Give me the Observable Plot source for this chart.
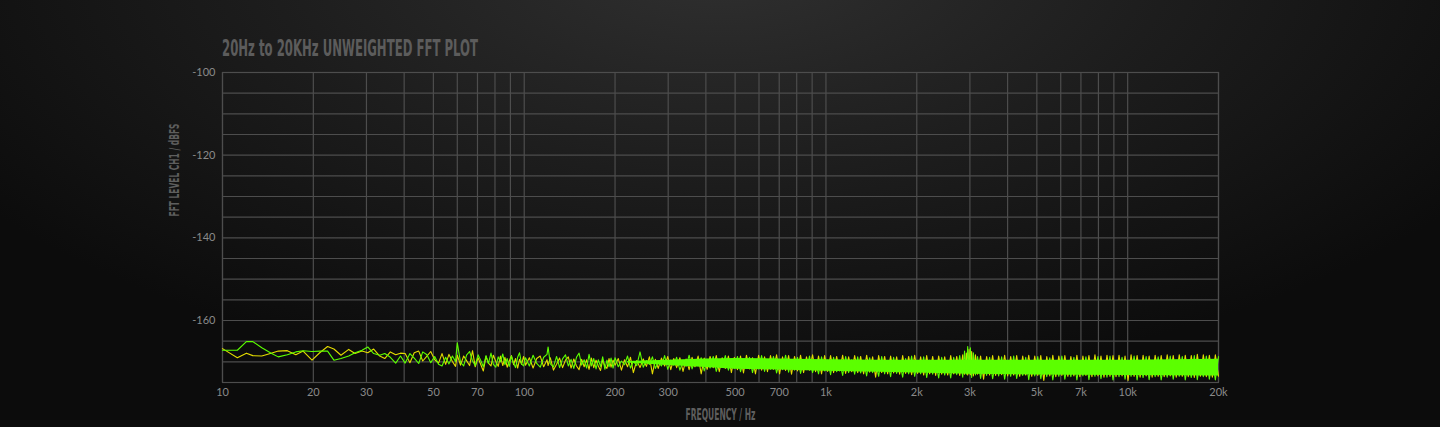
<!DOCTYPE html>
<html>
<head>
<meta charset="utf-8">
<script src="https://cdn.jsdelivr.net/npm/d3@7"></script>
<script src="https://cdn.jsdelivr.net/npm/@observablehq/plot@0.6"></script>
<style>
  html, body { margin: 0; padding: 0; }
  body {
    width: 1440px; height: 427px; overflow: hidden; position: relative;
    background-color: #0b0b0b;
    background-image: radial-gradient(ellipse 900px 430px at 720px -40px, #303030 0%, #1d1d1d 50%, #0c0c0c 100%);
  }
  #title { position: absolute; left: 0; top: 0; pointer-events: none; }
  #chart { position: absolute; left: 0; top: 0; }
  #chart svg { background: transparent; }
</style>
</head>
<body>
<svg id="title" width="1440" height="70">
  <text x="222" y="56" font-family="'Liberation Sans Narrow','DejaVu Sans Condensed','Roboto Condensed',sans-serif"
        font-weight="bold" font-size="23" fill="#5c5c5c" textLength="256" lengthAdjust="spacingAndGlyphs">20Hz to 20KHz UNWEIGHTED FFT PLOT</text>
</svg>
<div id="chart"></div>
<script>
// ---- tick / grid values ----
const xTickLabels = [10, 20, 30, 50, 70, 100, 200, 300, 500, 700, 1000, 2000, 3000, 5000, 7000, 10000, 20000];
const xGridLines = [10, 20, 30, 40, 50, 60, 70, 80, 90, 100, 200, 300, 400, 500, 600, 700, 800, 900,
  1000, 2000, 3000, 4000, 5000, 6000, 7000, 8000, 9000, 10000, 20000];
const yTickLabels = [-100, -120, -140, -160];
const yGridLines = [-100, -105, -110, -115, -120, -125, -130, -135, -140, -145, -150, -155, -160, -165, -170, -175];

// ---- frequencies (Hz) ----
const freqA = [10, 11.2, 12.0, 12.6, 13.5, 14.5, 15.3, 16.4, 17.5, 18.5, 19.8, 21.0, 22.3, 23.4, 24.7, 26.2, 27.5, 29.0, 30.3, 31.7,
  33.2, 34.5, 36.0, 37.5, 38.9];
const freqB = [40.3, 41.8, 43.2, 44.7, 46.1, 47.6, 49.0, 50.5, 52.0, 53.4, 54.9, 56.3, 57.8, 59.2, 60.0, 61.5, 63.0, 64.4, 65.9, 67.4,
  68.8, 70.3, 71.7, 73.2, 74.7, 76.1, 77.6, 79.0, 80.5, 82.0, 83.4, 84.9, 86.3, 87.8, 89.2, 90.7, 92.2, 93.6, 95.1, 96.5, 98.0, 99.5];
const freqC = [101, 104, 107, 110, 113, 116, 119, 120, 122, 125, 128, 131, 134, 137, 140, 143, 146, 149, 152, 155,
  158, 161, 164, 167, 170, 173, 176, 179, 182, 185, 188, 191, 194, 197];
const freqD = [200, 205, 210, 215, 220, 225, 230, 236, 242, 248,
  254, 260, 266, 272, 278, 285, 292, 299, 306, 313,
  320, 328, 336, 344, 352, 360, 368, 377, 386, 395,
  404, 413, 423, 433, 443, 453, 464, 475, 486, 497,
  509, 521, 533, 545, 558, 571, 584, 598, 612, 626,
  640, 655, 670, 686, 702, 718, 735, 752, 769, 787,
  805, 824, 843, 862, 882, 903, 924, 945, 967, 990,
  1013, 1036, 1060, 1085, 1110, 1136, 1162, 1189, 1217, 1245,
  1274, 1303, 1333, 1364, 1396, 1428, 1461, 1495, 1530, 1565,
  1601, 1638, 1676, 1715, 1755, 1796, 1837, 1880, 1923, 1968,
  2013, 2060, 2108, 2157, 2207, 2258, 2310, 2364, 2419, 2475,
  2532, 2591, 2651, 2713, 2776, 2840, 2880, 2920, 2950, 2980,
  3010, 3040, 3080, 3130, 3180, 3255, 3330, 3408, 3487, 3568,
  3651, 3736, 3822, 3911, 4002, 4095, 4190, 4287, 4387, 4489,
  4593, 4700, 4809, 4921, 5035, 5152, 5272, 5394, 5520, 5648,
  5779, 5913, 6051, 6191, 6335, 6482, 6633, 6787, 6945, 7106,
  7271, 7440, 7613, 7790, 7971, 8156, 8346, 8540, 8738, 8941,
  9149, 9362, 9580, 9802, 10030, 10263, 10502, 10746, 10996, 11251,
  11513, 11780, 12054, 12334, 12621, 12914, 13214, 13521, 13836, 14157,
  14486, 14823, 15167, 15520, 15880, 16249, 16627, 17013, 17409, 17813,
  18227, 18651, 19084, 19528, 20000];

// ---- green series (dBFS) ----
const greenA = [-167.2, -167.2, -165.1, -165.1, -166.6, -167.9, -168.8, -168.3, -167.6, -167.3, -167.5, -167.4, -167.4, -169.6, -169.2,
  -168.6, -167.8, -167.2, -166.4, -168.0, -168.4, -168.0, -168.9, -170.3, -168.6];
const greenB = [-170.3, -168.0, -169.1, -170.4, -167.6, -168.3, -170.2, -168.7, -170.6, -171.0, -168.9, -170.5, -168.6, -169.9, -165.4,
  -170.1, -171.0, -168.4, -167.5, -169.8, -170.9, -168.3, -169.6, -171.2, -168.5, -170.4, -167.9, -170.6, -171.3, -168.8,
  -170.0, -168.1, -170.7, -169.2, -171.1, -168.6, -170.3, -171.4, -168.9, -167.8, -170.5, -171.0];
const greenC = [-169.0, -171.0, -168.4, -170.4, -171.3, -168.9, -168.2, -166.4, -170.5, -171.2, -168.7, -171.4, -169.3, -168.3, -171.0,
  -169.4, -171.6, -168.9, -167.9, -170.8, -169.5, -171.5, -168.2, -171.0, -169.2, -171.7, -169.5, -171.1, -168.8, -171.8,
  -169.6, -171.2, -169.1, -171.5];
const greenD = [-169.0, -171.2, -169.8, -170.7, -168.6, -171.5, -169.9, -170.9, -167.6, -171.3,
  -169.7, -170.6, -168.8, -171.6, -170.1, -171.0, -168.5, -171.8, -169.6, -170.8,
  -168.9, -172.0, -169.9, -171.1, -168.4, -171.7, -169.5, -170.9, -169.0, -172.2,
  -169.6, -171.5, -168.7, -172.3, -169.9, -171.2, -168.5, -172.0, -169.4, -171.6,
  -168.7, -172.4, -169.8, -171.5, -168.9, -172.6, -169.5, -171.7, -168.5, -172.3,
  -169.6, -171.8, -168.7, -172.7, -169.9, -171.9, -168.4, -172.5, -169.5, -172.0,
  -168.9, -172.8, -169.7, -171.9, -168.6, -172.6, -170.0, -172.9, -168.8, -172.2,
  -169.6, -173.1, -168.9, -172.4, -170.0, -173.3, -168.7, -172.6, -169.5, -173.0,
  -168.8, -172.7, -169.9, -173.4, -169.0, -172.6, -170.1, -173.5, -168.7, -172.9,
  -169.8, -173.6, -168.9, -172.8, -170.0, -173.7, -169.2, -172.9, -168.6, -173.5,
  -169.9, -172.9, -168.8, -173.8, -169.6, -173.0, -170.1, -173.9, -168.9, -173.2,
  -169.7, -173.9, -168.9, -173.1, -168.5, -173.7, -167.4, -173.0, -166.3, -172.9,
  -166.6, -173.8, -167.8, -173.2, -168.7, -174.0, -169.8, -173.3, -168.9, -174.1,
  -170.0, -173.4, -168.8, -174.2, -169.7, -173.5, -168.6, -174.0, -170.1, -173.3,
  -168.9, -174.3, -169.8, -173.4, -168.7, -174.1, -170.0, -173.6, -169.0, -174.4,
  -169.9, -173.5, -168.6, -174.2, -170.1, -173.6, -168.9, -174.4, -169.7, -173.4,
  -168.8, -174.3, -170.0, -173.5, -168.7, -174.1, -169.8, -173.7, -168.6, -174.4,
  -169.9, -173.6, -168.9, -174.2, -170.1, -173.5, -168.6, -174.4, -169.7, -173.8,
  -168.7, -174.3, -169.9, -173.6, -168.8, -174.4, -170.0, -173.7, -168.6, -174.2,
  -169.8, -173.5, -168.7, -174.4, -170.0, -173.8, -168.5, -174.3, -169.9, -173.6,
  -168.6, -174.2, -169.8, -174.4, -168.7];

// ---- yellow series (dBFS) ----
const yellowA = [-166.8, -169.0, -167.9, -168.5, -168.6, -167.9, -167.4, -167.3, -168.3, -167.4, -169.6, -167.8, -166.3, -166.9, -168.4,
  -167.0, -168.0, -167.4, -167.8, -166.9, -168.6, -169.2, -167.6, -168.3, -167.9];
const yellowB = [-168.0, -170.2, -167.8, -167.4, -169.8, -168.6, -167.5, -169.5, -170.3, -168.0, -170.6, -168.2, -169.9, -171.1, -168.4,
  -170.8, -168.6, -169.7, -170.9, -167.3, -171.2, -169.0, -170.6, -172.2, -168.7, -170.3, -171.0, -168.4, -169.9, -171.1,
  -168.6, -170.9, -168.9, -171.3, -169.8, -168.5, -170.7, -169.2, -171.5, -169.4, -170.6, -168.7];
const yellowC = [-170.8, -169.0, -171.5, -169.2, -168.6, -171.2, -169.5, -170.9, -169.0, -172.0, -170.6, -169.1, -171.4, -169.6, -168.8,
  -171.5, -169.3, -171.0, -171.9, -169.4, -171.2, -169.5, -171.8, -169.1, -171.4, -169.6, -171.0, -172.1, -169.5, -171.0,
  -171.6, -169.2, -171.3, -169.6];
const yellowD = [-170.8, -169.2, -172.0, -169.5, -171.2, -168.9, -172.6, -169.7, -171.4, -169.3,
  -171.1, -168.8, -172.9, -169.4, -171.6, -169.1, -171.0, -168.7, -171.9, -169.2,
  -171.4, -169.0, -172.3, -169.3, -171.9, -168.9, -171.2, -168.6, -172.9, -169.1,
  -171.8, -168.7, -171.4, -168.5, -172.4, -169.0, -171.6, -168.6, -172.6, -168.9,
  -171.9, -168.6, -172.7, -168.4, -171.7, -169.0, -172.9, -168.4, -172.0, -168.8,
  -172.4, -168.5, -171.8, -168.3, -172.9, -168.8, -172.1, -168.5, -173.0, -168.7,
  -172.2, -168.4, -172.6, -168.8, -172.0, -168.3, -172.4, -168.6, -172.9, -168.5,
  -172.3, -168.5, -172.6, -168.7, -172.2, -168.4, -172.8, -168.8, -172.4, -168.5,
  -172.6, -168.7, -172.9, -168.4, -172.5, -168.8, -173.7, -168.5, -172.6, -168.7,
  -172.9, -168.6, -172.7, -168.8, -173.0, -168.5, -172.8, -168.7, -173.1, -168.4,
  -172.8, -168.8, -173.2, -168.5, -172.9, -168.7, -173.3, -168.6, -173.0, -168.8,
  -173.2, -168.5, -172.9, -168.7, -173.3, -168.3, -173.0, -167.9, -173.2, -167.0,
  -173.1, -167.5, -173.4, -168.3, -173.0, -168.6, -174.2, -168.7, -173.2, -168.5,
  -173.3, -168.6, -173.1, -168.4, -173.4, -168.7, -173.2, -168.5, -173.5, -168.6,
  -173.2, -168.4, -173.5, -168.6, -173.3, -168.5, -174.5, -168.7, -173.4, -168.4,
  -173.6, -168.6, -173.3, -168.5, -173.5, -168.7, -173.4, -168.4, -173.6, -168.6,
  -173.3, -168.5, -173.6, -168.3, -173.4, -168.6, -173.7, -168.4, -173.5, -168.5,
  -173.6, -168.4, -173.4, -168.6, -174.5, -168.3, -173.5, -168.5, -173.7, -168.4,
  -173.4, -168.6, -173.7, -168.4, -173.5, -168.5, -173.6, -168.3, -173.4, -168.5,
  -173.7, -168.3, -173.5, -168.4, -173.6, -168.5, -173.8, -168.2, -173.5, -168.3,
  -173.6, -168.4, -173.7, -168.3, -173.5];

// ---- dense noise floor band of the green trace ----
const bandFreq = [220, 300, 400, 500, 700, 1000, 1500, 2000, 3000, 5000, 10000, 20000];
const bandHi = [-169.9, -169.6, -169.3, -169.2, -169.3, -169.5, -169.6, -169.6, -169.6, -169.6, -169.6, -169.4];
const bandLo = [-170.3, -170.9, -171.4, -171.8, -172.0, -172.3, -172.5, -172.7, -173.0, -173.2, -173.3, -173.4];

const xLabel = "FREQUENCY / Hz";
const yLabel = "FFT LEVEL CH1 / dBFS";

// ---- build tables ----
const freqs = [...freqA, ...freqB, ...freqC, ...freqD];
const greens = [...greenA, ...greenB, ...greenC, ...greenD];
const yellows = [...yellowA, ...yellowB, ...yellowC, ...yellowD];
const rows = freqs.map((f, i) => ({f, grn: greens[i], yel: yellows[i]}));
const band = bandFreq.map((f, i) => ({f, hi: bandHi[i], lo: bandLo[i]}));

const GRID = "#4d4d4d";
const GREEN = "#5cff00";
const YELLOW = "#e4dc00";
const TICK = "#8a8a8a";
const condensed = "'Liberation Sans Narrow','DejaVu Sans Condensed','Roboto Condensed',sans-serif";
const fmtX = d => d >= 1000 ? (d / 1000) + "k" : String(d);

const chart = Plot.plot({
  width: 1440,
  height: 427,
  marginLeft: 222,
  marginRight: 222,
  marginTop: 72,
  marginBottom: 45,
  style: {background: "transparent", fontFamily: "Lato, 'Open Sans', sans-serif", fontSize: "11px", color: TICK},
  x: {type: "log", domain: [10, 20000], axis: null},
  y: {domain: [-175, -100]},
  marks: [
    Plot.gridY(yGridLines, {stroke: GRID, strokeOpacity: 1, strokeWidth: 1.2}),
    Plot.gridX(xGridLines, {stroke: GRID, strokeOpacity: 1, strokeWidth: 1.2}),
    Plot.frame({stroke: GRID, strokeWidth: 1.2}),
    Plot.line(rows, {x: "f", y: "yel", stroke: YELLOW, strokeWidth: 1.1}),
    Plot.areaY(band, {x: "f", y1: "lo", y2: "hi", fill: GREEN}),
    Plot.line(rows, {x: "f", y: "grn", stroke: GREEN, strokeWidth: 1.1}),
    Plot.text(xTickLabels, {x: d => d, text: fmtX, frameAnchor: "bottom", dy: 13, fill: TICK, fontSize: 11}),
    Plot.axisY(yTickLabels, {tickSize: 0, tickPadding: 7, label: null, fill: TICK, tickFormat: d => String(d)}),
    Plot.text([xLabel], {text: d => d, frameAnchor: "bottom", dy: 37, fill: "#5e5e5e", fontSize: 15,
      fontWeight: "bold", fontFamily: condensed}),
    Plot.text([yLabel], {text: d => d, frameAnchor: "left", dx: -48, dy: -11, rotate: -90, fill: "#5e5e5e", fontSize: 14,
      fontWeight: "bold", fontFamily: condensed})
  ]
});
chart.querySelectorAll("text").forEach(t => {
  if (t.textContent === xLabel) { t.setAttribute("textLength", 70); t.setAttribute("lengthAdjust", "spacingAndGlyphs"); }
  if (t.textContent === yLabel) { t.setAttribute("textLength", 93); t.setAttribute("lengthAdjust", "spacingAndGlyphs"); }
});
document.getElementById("chart").appendChild(chart);
</script>
</body>
</html>
